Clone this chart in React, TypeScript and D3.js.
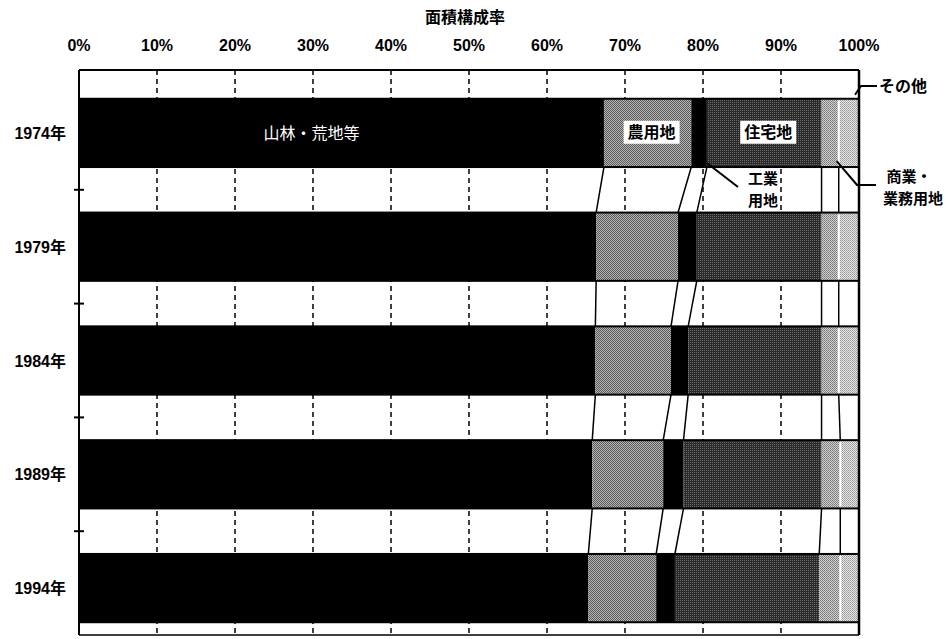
import React from "react";
import * as d3 from "d3";

const years = ["1974年", "1979年", "1984年", "1989年", "1994年"];
const categories = ["山林・荒地等", "農用地", "工業用地", "住宅地", "商業・業務用地", "その他"];
const forest = [67.3, 66.3, 66.2, 65.8, 65.3];
const farm = [11.2, 10.5, 9.7, 9.1, 8.7];
const industrial = [2.0, 2.4, 2.2, 2.6, 2.4];
const residential = [14.7, 16.0, 17.1, 17.7, 18.5];
const commercial = [2.2, 2.2, 2.2, 2.4, 2.7];
const other = [2.6, 2.6, 2.6, 2.4, 2.4];
const xTicks = [0, 10, 20, 30, 40, 50, 60, 70, 80, 90, 100];
const title = "面積構成率";

const W = 949;
const H = 639;
const left = 79;
const right = 859;
const top = 70;
const bottom = 635;

const fills = ["#000", "url(#pFarm)", "#000", "url(#pRes)", "url(#pCom)", "url(#pOther)"];

export default function App() {
  const series = [forest, farm, industrial, residential, commercial, other];
  const rows = years.map((y, i) => {
    const o: any = { year: y };
    categories.forEach((c, k) => (o[c] = series[k][i]));
    return o;
  });
  const stacked = d3.stack().keys(categories)(rows);
  const x = d3.scaleLinear().domain([0, 100]).range([left, right]);
  const y = d3.scaleBand().domain(years).range([76, 645]).paddingInner(0.4).paddingOuter(0.2);
  const bw = y.bandwidth();
  const font = "'Liberation Sans', 'Noto Sans CJK JP', sans-serif";
  const jp = "'Noto Sans CJK JP', sans-serif";

  const bandTicks = years.slice(1).map((yr) => (y(yr) as number) - (y.step() - bw) / 2);

  const y0 = y(years[0]) as number;
  const s0 = stacked.map((s) => s[0]);

  return (
    <svg width={W} height={H} style={{ position: "absolute", left: 0, top: 0, background: "#fff" }}>
      <defs>
        <pattern id="pFarm" width="2" height="2" patternUnits="userSpaceOnUse">
          <rect width="2" height="2" fill="#b4b4b4" />
          <rect x="0" y="0" width="1" height="1" fill="#5a5a5a" />
          <rect x="1" y="1" width="1" height="1" fill="#5a5a5a" />
        </pattern>
        <pattern id="pRes" width="2" height="2" patternUnits="userSpaceOnUse">
          <rect width="2" height="2" fill="#2a2a2a" />
          <rect x="0" y="0" width="1" height="1" fill="#6a6a6a" />
        </pattern>
        <pattern id="pCom" width="2" height="2" patternUnits="userSpaceOnUse">
          <rect width="2" height="2" fill="#cfcfcf" />
          <rect x="0" y="0" width="1" height="1" fill="#777" />
          <rect x="1" y="1" width="1" height="1" fill="#8a8a8a" />
        </pattern>
        <pattern id="pOther" width="2" height="2" patternUnits="userSpaceOnUse">
          <rect width="2" height="2" fill="#e6e6e6" />
          <rect x="0" y="0" width="1" height="1" fill="#999" />
          <rect x="1" y="1" width="1" height="1" fill="#aaa" />
        </pattern>
      </defs>

      <text x={465} y={23} textAnchor="middle" fontFamily={jp} fontWeight="bold" fontSize={16}>
        {title}
      </text>

      {xTicks.map((t) => (
        <text key={t} x={x(t)} y={51} textAnchor="middle" fontFamily={font} fontWeight="bold" fontSize={16}>
          {t}%
        </text>
      ))}

      {xTicks.slice(1, -1).map((t) => (
        <line key={t} x1={x(t)} x2={x(t)} y1={top} y2={bottom} stroke="#000" strokeWidth={1.5} strokeDasharray="5,4" />
      ))}

      {years.map((yr, i) =>
        stacked.map((s, k) => (
          <rect
            key={yr + k}
            x={x(s[i][0])}
            y={y(yr) as number}
            width={x(s[i][1]) - x(s[i][0])}
            height={bw}
            fill={fills[k]}
          />
        ))
      )}
      {years.map((yr, i) => (
        <g key={"o" + yr}>
          <rect x={left} y={y(yr) as number} width={right - left} height={bw} fill="none" stroke="#000" strokeWidth={2} />
          <line
            x1={x(stacked[4][i][1])}
            x2={x(stacked[4][i][1])}
            y1={(y(yr) as number) + 2}
            y2={(y(yr) as number) + bw - 2}
            stroke="#fff"
            strokeWidth={2}
          />
        </g>
      ))}

      {years.slice(0, -1).map((yr, i) =>
        stacked.slice(0, 5).map((s, k) => (
          <line
            key={"c" + yr + k}
            x1={x(s[i][1])}
            y1={(y(yr) as number) + bw}
            x2={x(s[i + 1][1])}
            y2={y(years[i + 1]) as number}
            stroke="#000"
            strokeWidth={1.5}
          />
        ))
      )}

      <line x1={left} x2={right} y1={top} y2={top} stroke="#000" strokeWidth={2} />
      <line x1={left} x2={right} y1={bottom} y2={bottom} stroke="#000" strokeWidth={1.5} />
      <line x1={left} x2={left} y1={top} y2={bottom} stroke="#000" strokeWidth={2} />
      <line x1={right} x2={right} y1={top} y2={bottom} stroke="#000" strokeWidth={2.5} />
      {bandTicks.map((t, i) => (
        <line key={"t" + i} x1={left - 5} x2={left + 5} y1={t} y2={t} stroke="#000" strokeWidth={2} />
      ))}

      {years.map((yr) => (
        <text
          key={"l" + yr}
          x={66}
          y={(y(yr) as number) + bw / 2 + 6}
          textAnchor="end"
          fontFamily={font}
          fontWeight="bold"
          fontSize={16}
        >
          {yr}
        </text>
      ))}

      <text x={x((s0[0][0] + s0[0][1]) / 2) - 30} y={y0 + bw / 2 + 6} textAnchor="middle" fill="#fff" fontFamily={jp} fontSize={16}>
        {categories[0]}
      </text>
      {[1, 3].map((k) => {
        const cx = x((s0[k][0] + s0[k][1]) / 2) + 4;
        return (
          <g key={"b" + k}>
            <rect x={cx - 28} y={y0 + 22} width={56} height={23} fill="#fff" />
            <text x={cx} y={y0 + 39} textAnchor="middle" fontFamily={jp} fontWeight="bold" fontSize={16}>
              {categories[k]}
            </text>
          </g>
        );
      })}

      <polyline points={`${x(s0[2][1])},${y0 + bw - 4} 738,187`} fill="none" stroke="#000" strokeWidth={2} />
      <text x={763} y={184} textAnchor="middle" fontFamily={jp} fontWeight="bold" fontSize={15}>工業</text>
      <text x={763} y={206} textAnchor="middle" fontFamily={jp} fontWeight="bold" fontSize={15}>用地</text>

      <polyline points={`${x(s0[4][1]) - 2},${y0 + bw - 6} 857,185 876,185`} fill="none" stroke="#000" strokeWidth={2} />
      <text x={909} y={182} textAnchor="middle" fontFamily={jp} fontWeight="bold" fontSize={15}>商業・</text>
      <text x={913} y={204} textAnchor="middle" fontFamily={jp} fontWeight="bold" fontSize={15}>業務用地</text>

      <polyline points={`855,${y0 - 4} 861,86 877,86`} fill="none" stroke="#000" strokeWidth={2} />
      <text x={879} y={92} fontFamily={jp} fontWeight="bold" fontSize={16}>その他</text>
    </svg>
  );
}
